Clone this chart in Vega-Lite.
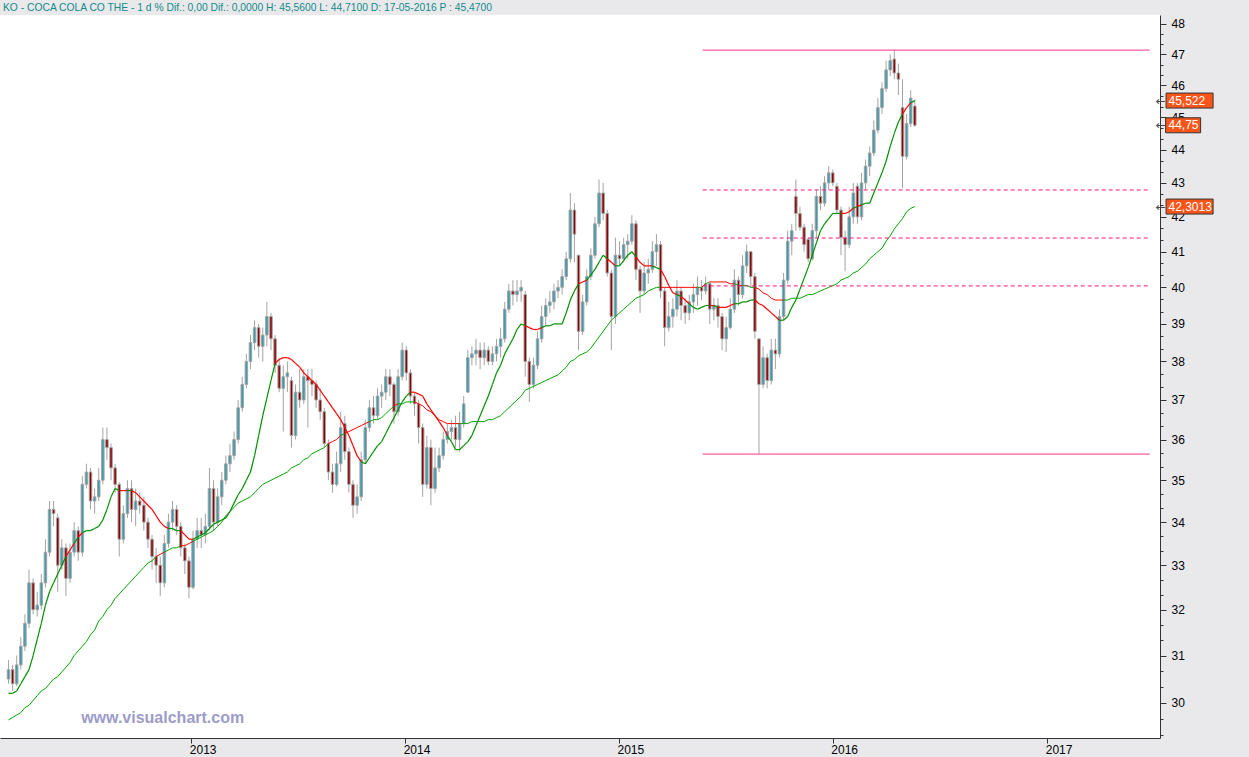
{
"$schema":"https://vega.github.io/schema/vega-lite/v6.json",
"width":1160,"height":723,
"autosize":{"type":"none"},
"padding":{"left":0,"top":15,"right":89,"bottom":19},
"background":"#e9e9ec",
"config":{"view":{"stroke":null,"fill":"#ffffff"},"font":"Liberation Sans"},
"title":{"text":"KO - COCA COLA CO THE -  1 d % Dif.: 0,00 Dif.: 0,0000 H: 45,5600 L: 44,7100 D: 17-05-2016 P : 45,4700","anchor":"start","frame":"group","orient":"top","offset":3,"dx":3,"dy":11,"baseline":"bottom","fontSize":10.3,"font":"Liberation Sans","fontWeight":"normal","color":"#118a8a"},
"datasets":{
"px":[
{"d":"2012-02-24","o":30.5,"h":30.9,"l":30.4,"c":30.7,"m":30.2,"a":29.65},
{"d":"2012-03-02","o":30.7,"h":30.8,"l":30.25,"c":30.4,"m":30.2,"a":29.7},
{"d":"2012-03-09","o":30.4,"h":31.0,"l":30.35,"c":30.8,"m":30.25,"a":29.75},
{"d":"2012-03-16","o":30.8,"h":31.4,"l":30.7,"c":31.2,"m":30.4,"a":29.8},
{"d":"2012-03-23","o":31.2,"h":31.9,"l":31.1,"c":31.7,"m":30.55,"a":29.9},
{"d":"2012-03-30","o":31.7,"h":32.9,"l":31.6,"c":32.6,"m":30.7,"a":29.95},
{"d":"2012-04-06","o":32.6,"h":32.7,"l":31.9,"c":32.0,"m":31.0,"a":30.05},
{"d":"2012-04-13","o":32.0,"h":32.4,"l":31.85,"c":32.1,"m":31.35,"a":30.15},
{"d":"2012-04-20","o":32.1,"h":32.8,"l":32.0,"c":32.6,"m":31.7,"a":30.25},
{"d":"2012-04-27","o":32.6,"h":33.6,"l":32.5,"c":33.3,"m":32.1,"a":30.3},
{"d":"2012-05-04","o":33.3,"h":34.5,"l":33.2,"c":34.3,"m":32.4,"a":30.4},
{"d":"2012-05-11","o":34.3,"h":34.5,"l":33.9,"c":34.2,"m":32.6,"a":30.5},
{"d":"2012-05-18","o":34.1,"h":34.2,"l":32.4,"c":33.0,"m":32.8,"a":30.55},
{"d":"2012-05-25","o":33.0,"h":33.6,"l":32.9,"c":33.4,"m":33.0,"a":30.65},
{"d":"2012-06-01","o":33.4,"h":33.5,"l":32.3,"c":32.7,"m":33.2,"a":30.75},
{"d":"2012-06-08","o":32.7,"h":33.5,"l":32.6,"c":33.3,"m":33.35,"a":30.85},
{"d":"2012-06-15","o":33.3,"h":34.0,"l":33.2,"c":33.8,"m":33.5,"a":31.0},
{"d":"2012-06-22","o":33.8,"h":33.9,"l":33.1,"c":33.3,"m":33.65,"a":31.1},
{"d":"2012-06-29","o":33.3,"h":35.1,"l":33.2,"c":34.9,"m":33.75,"a":31.2},
{"d":"2012-07-06","o":34.9,"h":35.4,"l":34.8,"c":35.2,"m":33.8,"a":31.3},
{"d":"2012-07-13","o":35.2,"h":35.3,"l":34.3,"c":34.5,"m":33.8,"a":31.45},
{"d":"2012-07-20","o":34.5,"h":34.8,"l":34.2,"c":34.6,"m":33.85,"a":31.55},
{"d":"2012-07-27","o":34.6,"h":35.3,"l":34.5,"c":35.0,"m":33.9,"a":31.75},
{"d":"2012-08-03","o":35.0,"h":36.3,"l":34.9,"c":36.0,"m":34.05,"a":31.85},
{"d":"2012-08-10","o":36.0,"h":36.3,"l":35.5,"c":35.8,"m":34.3,"a":32.0},
{"d":"2012-08-17","o":35.8,"h":35.9,"l":35.0,"c":35.3,"m":34.6,"a":32.1},
{"d":"2012-08-24","o":35.3,"h":35.4,"l":34.7,"c":34.9,"m":34.8,"a":32.25},
{"d":"2012-08-31","o":34.9,"h":34.95,"l":33.2,"c":33.6,"m":34.75,"a":32.35},
{"d":"2012-09-07","o":33.6,"h":34.4,"l":33.5,"c":34.2,"m":34.75,"a":32.45},
{"d":"2012-09-14","o":34.2,"h":35.0,"l":34.1,"c":34.8,"m":34.75,"a":32.55},
{"d":"2012-09-21","o":34.8,"h":35.0,"l":34.0,"c":34.3,"m":34.75,"a":32.65},
{"d":"2012-09-28","o":34.3,"h":34.8,"l":33.9,"c":34.5,"m":34.7,"a":32.75},
{"d":"2012-10-05","o":34.5,"h":34.7,"l":34.2,"c":34.4,"m":34.6,"a":32.85},
{"d":"2012-10-12","o":34.4,"h":34.6,"l":33.8,"c":34.0,"m":34.5,"a":32.95},
{"d":"2012-10-19","o":34.0,"h":34.1,"l":33.4,"c":33.6,"m":34.4,"a":33.05},
{"d":"2012-10-26","o":33.6,"h":33.7,"l":32.9,"c":33.2,"m":34.3,"a":33.1},
{"d":"2012-11-02","o":33.2,"h":33.4,"l":32.6,"c":33.0,"m":34.15,"a":33.2},
{"d":"2012-11-09","o":33.0,"h":33.2,"l":32.3,"c":32.6,"m":34.0,"a":33.25},
{"d":"2012-11-16","o":32.6,"h":33.7,"l":32.5,"c":33.5,"m":33.9,"a":33.3},
{"d":"2012-11-23","o":33.5,"h":34.2,"l":33.4,"c":34.0,"m":33.85,"a":33.35},
{"d":"2012-11-30","o":34.0,"h":34.5,"l":33.8,"c":34.3,"m":33.85,"a":33.4},
{"d":"2012-12-07","o":34.3,"h":34.4,"l":33.7,"c":33.9,"m":33.8,"a":33.4},
{"d":"2012-12-14","o":33.9,"h":34.0,"l":33.2,"c":33.4,"m":33.8,"a":33.45},
{"d":"2012-12-21","o":33.4,"h":33.5,"l":32.8,"c":33.1,"m":33.7,"a":33.45},
{"d":"2012-12-28","o":33.1,"h":33.2,"l":32.25,"c":32.5,"m":33.6,"a":33.5},
{"d":"2013-01-04","o":32.5,"h":33.8,"l":32.45,"c":33.6,"m":33.6,"a":33.55},
{"d":"2013-01-11","o":33.6,"h":34.1,"l":33.4,"c":33.8,"m":33.65,"a":33.6},
{"d":"2013-01-18","o":33.8,"h":34.1,"l":33.4,"c":33.7,"m":33.7,"a":33.65},
{"d":"2013-01-25","o":33.7,"h":34.2,"l":33.5,"c":33.9,"m":33.75,"a":33.7},
{"d":"2013-02-01","o":33.9,"h":35.3,"l":33.8,"c":34.8,"m":33.85,"a":33.75},
{"d":"2013-02-08","o":34.8,"h":35.0,"l":33.8,"c":34.0,"m":33.95,"a":33.8},
{"d":"2013-02-15","o":34.0,"h":34.8,"l":33.9,"c":34.6,"m":34.0,"a":33.9},
{"d":"2013-02-22","o":34.6,"h":35.2,"l":34.4,"c":35.0,"m":34.05,"a":34.0},
{"d":"2013-03-01","o":35.0,"h":35.6,"l":34.9,"c":35.4,"m":34.1,"a":34.15},
{"d":"2013-03-08","o":35.4,"h":35.9,"l":35.2,"c":35.6,"m":34.25,"a":34.25},
{"d":"2013-03-15","o":35.6,"h":36.2,"l":35.5,"c":36.0,"m":34.45,"a":34.35},
{"d":"2013-03-22","o":36.0,"h":37.0,"l":35.9,"c":36.8,"m":34.65,"a":34.45},
{"d":"2013-03-29","o":36.8,"h":37.6,"l":36.7,"c":37.4,"m":34.8,"a":34.5},
{"d":"2013-04-05","o":37.4,"h":38.2,"l":37.3,"c":38.0,"m":35.0,"a":34.55},
{"d":"2013-04-12","o":38.0,"h":38.7,"l":37.8,"c":38.5,"m":35.2,"a":34.6},
{"d":"2013-04-19","o":38.5,"h":39.1,"l":38.3,"c":38.9,"m":35.6,"a":34.7},
{"d":"2013-04-26","o":38.9,"h":39.0,"l":38.1,"c":38.4,"m":36.1,"a":34.8},
{"d":"2013-05-03","o":38.4,"h":38.9,"l":38.0,"c":38.7,"m":36.6,"a":34.9},
{"d":"2013-05-10","o":38.7,"h":39.6,"l":38.4,"c":39.2,"m":37.05,"a":34.95},
{"d":"2013-05-17","o":39.2,"h":39.3,"l":38.3,"c":38.6,"m":37.5,"a":35.0},
{"d":"2013-05-24","o":38.6,"h":38.7,"l":37.7,"c":37.9,"m":37.95,"a":35.05},
{"d":"2013-05-31","o":37.9,"h":38.1,"l":37.2,"c":37.3,"m":38.05,"a":35.1},
{"d":"2013-06-07","o":37.3,"h":37.9,"l":36.2,"c":37.6,"m":38.1,"a":35.15},
{"d":"2013-06-14","o":37.6,"h":38.0,"l":37.2,"c":37.7,"m":38.1,"a":35.2},
{"d":"2013-06-21","o":37.5,"h":37.6,"l":35.8,"c":36.1,"m":38.05,"a":35.3},
{"d":"2013-06-28","o":36.1,"h":37.4,"l":36.0,"c":37.2,"m":37.95,"a":35.35},
{"d":"2013-07-05","o":37.2,"h":37.8,"l":36.8,"c":37.0,"m":37.85,"a":35.4},
{"d":"2013-07-12","o":37.0,"h":37.8,"l":36.9,"c":37.6,"m":37.7,"a":35.5},
{"d":"2013-07-19","o":37.6,"h":37.8,"l":36.3,"c":37.5,"m":37.6,"a":35.55},
{"d":"2013-07-26","o":37.5,"h":37.8,"l":37.1,"c":37.4,"m":37.5,"a":35.65},
{"d":"2013-08-02","o":37.4,"h":37.5,"l":36.8,"c":37.0,"m":37.4,"a":35.7},
{"d":"2013-08-09","o":37.0,"h":37.3,"l":36.5,"c":36.7,"m":37.25,"a":35.75},
{"d":"2013-08-16","o":36.7,"h":36.8,"l":35.8,"c":35.9,"m":37.1,"a":35.8},
{"d":"2013-08-23","o":35.9,"h":36.0,"l":35.0,"c":35.2,"m":36.95,"a":35.9},
{"d":"2013-08-30","o":35.2,"h":35.4,"l":34.7,"c":34.9,"m":36.8,"a":35.95},
{"d":"2013-09-06","o":34.9,"h":35.7,"l":34.85,"c":35.4,"m":36.65,"a":36.0},
{"d":"2013-09-13","o":35.4,"h":36.7,"l":35.2,"c":36.3,"m":36.5,"a":36.1},
{"d":"2013-09-20","o":36.4,"h":36.6,"l":35.5,"c":35.7,"m":36.3,"a":36.15},
{"d":"2013-09-27","o":35.7,"h":35.8,"l":34.7,"c":34.9,"m":36.1,"a":36.2},
{"d":"2013-10-04","o":34.9,"h":35.0,"l":34.1,"c":34.4,"m":35.85,"a":36.25},
{"d":"2013-10-11","o":34.4,"h":34.9,"l":34.2,"c":34.6,"m":35.6,"a":36.3},
{"d":"2013-10-18","o":34.6,"h":35.7,"l":34.5,"c":35.5,"m":35.45,"a":36.35},
{"d":"2013-10-25","o":35.5,"h":36.5,"l":35.4,"c":36.3,"m":35.4,"a":36.4},
{"d":"2013-11-01","o":36.3,"h":37.0,"l":36.2,"c":36.8,"m":35.55,"a":36.45},
{"d":"2013-11-08","o":36.8,"h":37.1,"l":36.4,"c":36.6,"m":35.7,"a":36.5},
{"d":"2013-11-15","o":36.6,"h":37.3,"l":36.5,"c":37.1,"m":35.85,"a":36.5},
{"d":"2013-11-22","o":37.1,"h":37.4,"l":36.8,"c":37.2,"m":35.95,"a":36.55},
{"d":"2013-11-29","o":37.2,"h":37.8,"l":37.0,"c":37.6,"m":36.15,"a":36.65},
{"d":"2013-12-06","o":37.6,"h":37.8,"l":37.1,"c":37.4,"m":36.35,"a":36.75},
{"d":"2013-12-13","o":37.4,"h":37.45,"l":36.4,"c":36.7,"m":36.55,"a":36.85},
{"d":"2013-12-20","o":36.7,"h":37.8,"l":36.6,"c":37.6,"m":36.75,"a":36.9},
{"d":"2013-12-27","o":37.6,"h":38.5,"l":37.5,"c":38.3,"m":36.95,"a":36.9},
{"d":"2014-01-03","o":38.3,"h":38.4,"l":37.5,"c":37.7,"m":37.1,"a":36.95},
{"d":"2014-01-10","o":37.7,"h":37.8,"l":36.9,"c":37.1,"m":37.2,"a":36.95},
{"d":"2014-01-17","o":37.1,"h":37.2,"l":36.6,"c":36.9,"m":37.2,"a":36.95},
{"d":"2014-01-24","o":36.9,"h":37.0,"l":35.9,"c":36.3,"m":37.15,"a":36.9},
{"d":"2014-01-31","o":36.3,"h":36.4,"l":34.6,"c":34.9,"m":37.1,"a":36.85},
{"d":"2014-02-07","o":34.9,"h":36.1,"l":34.8,"c":35.8,"m":36.9,"a":36.75},
{"d":"2014-02-14","o":35.8,"h":36.0,"l":34.4,"c":34.8,"m":36.75,"a":36.7},
{"d":"2014-02-21","o":34.8,"h":35.8,"l":34.7,"c":35.3,"m":36.6,"a":36.6},
{"d":"2014-02-28","o":35.3,"h":35.8,"l":35.2,"c":35.6,"m":36.45,"a":36.5},
{"d":"2014-03-07","o":35.6,"h":36.2,"l":35.5,"c":36.0,"m":36.3,"a":36.45},
{"d":"2014-03-14","o":36.0,"h":36.4,"l":35.9,"c":36.2,"m":36.1,"a":36.4},
{"d":"2014-03-21","o":36.2,"h":36.5,"l":36.0,"c":36.3,"m":35.95,"a":36.4},
{"d":"2014-03-28","o":36.3,"h":36.6,"l":35.8,"c":36.0,"m":35.75,"a":36.4},
{"d":"2014-04-04","o":36.0,"h":36.7,"l":35.7,"c":36.4,"m":35.75,"a":36.4},
{"d":"2014-04-11","o":36.4,"h":37.1,"l":36.3,"c":36.9,"m":35.85,"a":36.4},
{"d":"2014-04-18","o":37.2,"h":38.3,"l":37.2,"c":38.1,"m":35.95,"a":36.4},
{"d":"2014-04-25","o":38.1,"h":38.4,"l":37.9,"c":38.2,"m":36.1,"a":36.45},
{"d":"2014-05-02","o":38.2,"h":38.6,"l":37.9,"c":38.3,"m":36.35,"a":36.45},
{"d":"2014-05-09","o":38.3,"h":38.5,"l":37.8,"c":38.1,"m":36.6,"a":36.45},
{"d":"2014-05-16","o":38.1,"h":38.5,"l":37.9,"c":38.3,"m":36.85,"a":36.45},
{"d":"2014-05-23","o":38.3,"h":38.4,"l":37.9,"c":38.0,"m":37.1,"a":36.5},
{"d":"2014-05-30","o":38.0,"h":38.4,"l":37.9,"c":38.2,"m":37.4,"a":36.5},
{"d":"2014-06-06","o":38.2,"h":38.6,"l":38.0,"c":38.4,"m":37.7,"a":36.55},
{"d":"2014-06-13","o":38.4,"h":38.9,"l":38.1,"c":38.6,"m":37.9,"a":36.6},
{"d":"2014-06-20","o":38.6,"h":39.6,"l":38.5,"c":39.4,"m":38.2,"a":36.7},
{"d":"2014-06-27","o":39.4,"h":40.1,"l":39.3,"c":39.9,"m":38.4,"a":36.8},
{"d":"2014-07-04","o":39.9,"h":40.2,"l":39.5,"c":39.8,"m":38.6,"a":36.9},
{"d":"2014-07-11","o":39.8,"h":40.2,"l":39.6,"c":39.9,"m":38.85,"a":37.0},
{"d":"2014-07-18","o":39.9,"h":40.2,"l":39.6,"c":40.0,"m":39.0,"a":37.1},
{"d":"2014-07-25","o":39.8,"h":39.9,"l":37.6,"c":38.0,"m":38.95,"a":37.25},
{"d":"2014-08-01","o":38.0,"h":38.1,"l":36.95,"c":37.4,"m":38.9,"a":37.3},
{"d":"2014-08-08","o":37.4,"h":38.1,"l":37.3,"c":37.9,"m":38.85,"a":37.35},
{"d":"2014-08-15","o":37.9,"h":38.8,"l":37.8,"c":38.6,"m":38.85,"a":37.4},
{"d":"2014-08-22","o":38.6,"h":39.5,"l":38.5,"c":39.2,"m":38.9,"a":37.45},
{"d":"2014-08-29","o":39.2,"h":39.7,"l":38.95,"c":39.5,"m":38.95,"a":37.5},
{"d":"2014-09-05","o":39.5,"h":39.9,"l":39.3,"c":39.6,"m":38.95,"a":37.55},
{"d":"2014-09-12","o":39.6,"h":40.1,"l":39.4,"c":39.9,"m":39.0,"a":37.6},
{"d":"2014-09-19","o":39.9,"h":40.2,"l":39.7,"c":40.0,"m":39.0,"a":37.65},
{"d":"2014-09-26","o":40.0,"h":40.5,"l":39.8,"c":40.3,"m":39.0,"a":37.75},
{"d":"2014-10-03","o":40.3,"h":41.0,"l":40.2,"c":40.8,"m":39.3,"a":37.85},
{"d":"2014-10-10","o":40.8,"h":42.7,"l":40.7,"c":42.2,"m":39.65,"a":38.0},
{"d":"2014-10-17","o":42.2,"h":42.4,"l":40.7,"c":41.5,"m":39.9,"a":38.05},
{"d":"2014-10-24","o":40.9,"h":40.9,"l":38.3,"c":38.8,"m":40.1,"a":38.15},
{"d":"2014-10-31","o":38.8,"h":39.8,"l":38.7,"c":39.6,"m":40.15,"a":38.2},
{"d":"2014-11-07","o":39.6,"h":40.5,"l":39.5,"c":40.3,"m":40.2,"a":38.25},
{"d":"2014-11-14","o":40.3,"h":41.1,"l":40.2,"c":40.9,"m":40.35,"a":38.35},
{"d":"2014-11-21","o":40.9,"h":42.0,"l":40.8,"c":41.8,"m":40.5,"a":38.5},
{"d":"2014-11-28","o":41.8,"h":43.1,"l":41.7,"c":42.7,"m":40.7,"a":38.65},
{"d":"2014-12-05","o":42.7,"h":43.0,"l":41.9,"c":42.1,"m":40.9,"a":38.8},
{"d":"2014-12-12","o":42.1,"h":42.2,"l":40.3,"c":40.4,"m":40.8,"a":38.95},
{"d":"2014-12-19","o":40.4,"h":40.5,"l":38.3,"c":39.2,"m":40.7,"a":39.1},
{"d":"2014-12-26","o":39.2,"h":41.4,"l":39.0,"c":40.9,"m":40.6,"a":39.2},
{"d":"2015-01-02","o":40.9,"h":41.3,"l":40.6,"c":40.8,"m":40.6,"a":39.3},
{"d":"2015-01-09","o":40.8,"h":41.4,"l":40.7,"c":41.2,"m":40.75,"a":39.4},
{"d":"2015-01-16","o":41.2,"h":41.5,"l":40.8,"c":41.3,"m":40.9,"a":39.5},
{"d":"2015-01-23","o":41.3,"h":42.05,"l":41.2,"c":41.8,"m":41.0,"a":39.6},
{"d":"2015-01-30","o":41.8,"h":41.9,"l":40.2,"c":40.5,"m":40.85,"a":39.7},
{"d":"2015-02-06","o":40.5,"h":40.6,"l":39.3,"c":39.9,"m":40.7,"a":39.75},
{"d":"2015-02-13","o":39.9,"h":40.7,"l":39.8,"c":40.4,"m":40.6,"a":39.8},
{"d":"2015-02-20","o":40.4,"h":40.8,"l":40.1,"c":40.5,"m":40.6,"a":39.9},
{"d":"2015-02-27","o":40.5,"h":41.3,"l":40.4,"c":41.0,"m":40.6,"a":39.95},
{"d":"2015-03-06","o":41.0,"h":41.5,"l":40.6,"c":41.2,"m":40.55,"a":40.0},
{"d":"2015-03-13","o":41.2,"h":41.3,"l":39.7,"c":39.9,"m":40.5,"a":40.0},
{"d":"2015-03-20","o":39.9,"h":40.0,"l":38.4,"c":38.9,"m":40.3,"a":40.0},
{"d":"2015-03-27","o":38.9,"h":39.6,"l":38.8,"c":39.2,"m":40.05,"a":40.0},
{"d":"2015-04-03","o":39.2,"h":39.7,"l":38.9,"c":39.4,"m":39.85,"a":40.0},
{"d":"2015-04-10","o":39.4,"h":40.2,"l":39.2,"c":39.9,"m":39.8,"a":40.0},
{"d":"2015-04-17","o":39.9,"h":40.0,"l":39.1,"c":39.5,"m":39.75,"a":40.0},
{"d":"2015-04-24","o":39.5,"h":39.7,"l":39.0,"c":39.3,"m":39.65,"a":40.0},
{"d":"2015-05-01","o":39.3,"h":39.8,"l":39.1,"c":39.6,"m":39.55,"a":40.0},
{"d":"2015-05-08","o":39.6,"h":40.1,"l":39.3,"c":39.8,"m":39.45,"a":40.0},
{"d":"2015-05-15","o":39.8,"h":40.3,"l":39.5,"c":40.0,"m":39.4,"a":40.0},
{"d":"2015-05-22","o":40.0,"h":40.2,"l":39.65,"c":39.9,"m":39.45,"a":40.0},
{"d":"2015-05-29","o":39.9,"h":40.3,"l":39.8,"c":40.1,"m":39.5,"a":40.1},
{"d":"2015-06-05","o":40.1,"h":40.15,"l":39.0,"c":39.4,"m":39.5,"a":40.15},
{"d":"2015-06-12","o":39.4,"h":39.7,"l":39.1,"c":39.5,"m":39.5,"a":40.15},
{"d":"2015-06-19","o":39.5,"h":39.7,"l":38.9,"c":39.2,"m":39.45,"a":40.15},
{"d":"2015-06-26","o":39.2,"h":39.3,"l":38.3,"c":38.6,"m":39.45,"a":40.15},
{"d":"2015-07-03","o":38.6,"h":39.2,"l":38.25,"c":38.9,"m":39.45,"a":40.15},
{"d":"2015-07-10","o":38.9,"h":39.7,"l":38.85,"c":39.4,"m":39.5,"a":40.1},
{"d":"2015-07-17","o":39.4,"h":40.5,"l":39.3,"c":40.2,"m":39.55,"a":40.1},
{"d":"2015-07-24","o":40.2,"h":40.3,"l":39.5,"c":39.8,"m":39.55,"a":40.05},
{"d":"2015-07-31","o":39.8,"h":40.9,"l":39.7,"c":40.6,"m":39.6,"a":40.05},
{"d":"2015-08-07","o":40.6,"h":41.2,"l":40.4,"c":41.0,"m":39.6,"a":40.05},
{"d":"2015-08-14","o":41.0,"h":41.0,"l":40.0,"c":40.3,"m":39.65,"a":40.0},
{"d":"2015-08-21","o":40.3,"h":40.4,"l":38.6,"c":38.8,"m":39.65,"a":40.0},
{"d":"2015-08-28","o":38.6,"h":38.6,"l":35.65,"c":37.4,"m":39.55,"a":39.95},
{"d":"2015-09-04","o":37.4,"h":38.4,"l":37.3,"c":38.1,"m":39.5,"a":39.85},
{"d":"2015-09-11","o":38.1,"h":38.2,"l":37.3,"c":37.5,"m":39.4,"a":39.8},
{"d":"2015-09-18","o":37.5,"h":38.6,"l":37.4,"c":38.3,"m":39.3,"a":39.7},
{"d":"2015-09-25","o":38.3,"h":38.6,"l":37.8,"c":38.2,"m":39.2,"a":39.65},
{"d":"2015-10-02","o":38.2,"h":39.4,"l":38.1,"c":39.2,"m":39.1,"a":39.65},
{"d":"2015-10-09","o":39.2,"h":40.4,"l":39.1,"c":40.2,"m":39.1,"a":39.65},
{"d":"2015-10-16","o":40.2,"h":41.6,"l":40.1,"c":41.3,"m":39.2,"a":39.65},
{"d":"2015-10-23","o":41.3,"h":41.8,"l":40.9,"c":41.6,"m":39.45,"a":39.7},
{"d":"2015-10-30","o":42.6,"h":43.1,"l":41.6,"c":42.1,"m":39.65,"a":39.7},
{"d":"2015-11-06","o":42.1,"h":42.3,"l":41.6,"c":41.7,"m":39.95,"a":39.7},
{"d":"2015-11-13","o":41.7,"h":41.8,"l":41.0,"c":41.2,"m":40.25,"a":39.75},
{"d":"2015-11-20","o":41.35,"h":41.4,"l":40.7,"c":40.8,"m":40.55,"a":39.8},
{"d":"2015-11-27","o":40.8,"h":41.8,"l":40.75,"c":41.6,"m":40.9,"a":39.8},
{"d":"2015-12-04","o":41.6,"h":42.8,"l":41.4,"c":42.6,"m":41.25,"a":39.85},
{"d":"2015-12-11","o":42.6,"h":42.9,"l":42.2,"c":42.4,"m":41.6,"a":39.9},
{"d":"2015-12-18","o":42.4,"h":43.2,"l":42.3,"c":43.0,"m":41.8,"a":39.95},
{"d":"2015-12-25","o":43.0,"h":43.5,"l":42.8,"c":43.3,"m":41.95,"a":40.0},
{"d":"2016-01-01","o":43.3,"h":43.4,"l":42.9,"c":43.0,"m":42.1,"a":40.05},
{"d":"2016-01-08","o":42.9,"h":43.0,"l":42.1,"c":42.2,"m":42.1,"a":40.1},
{"d":"2016-01-15","o":42.2,"h":42.3,"l":40.9,"c":41.4,"m":42.1,"a":40.2},
{"d":"2016-01-22","o":41.4,"h":41.6,"l":40.45,"c":41.2,"m":42.1,"a":40.25},
{"d":"2016-01-29","o":41.2,"h":42.3,"l":41.1,"c":42.0,"m":42.15,"a":40.3},
{"d":"2016-02-05","o":42.0,"h":43.0,"l":41.8,"c":42.7,"m":42.25,"a":40.4},
{"d":"2016-02-12","o":42.9,"h":43.0,"l":41.8,"c":42.0,"m":42.3,"a":40.45},
{"d":"2016-02-19","o":42.0,"h":43.3,"l":41.9,"c":43.0,"m":42.35,"a":40.55},
{"d":"2016-02-26","o":43.0,"h":43.7,"l":42.8,"c":43.5,"m":42.4,"a":40.65},
{"d":"2016-03-04","o":43.5,"h":44.1,"l":43.2,"c":43.9,"m":42.4,"a":40.8},
{"d":"2016-03-11","o":43.9,"h":44.9,"l":43.8,"c":44.6,"m":42.7,"a":40.9},
{"d":"2016-03-18","o":44.6,"h":45.6,"l":44.5,"c":45.3,"m":43.0,"a":41.0},
{"d":"2016-03-25","o":45.3,"h":46.1,"l":45.1,"c":45.9,"m":43.3,"a":41.1},
{"d":"2016-04-01","o":45.9,"h":46.8,"l":45.8,"c":46.5,"m":43.65,"a":41.3},
{"d":"2016-04-08","o":46.5,"h":47.0,"l":46.3,"c":46.8,"m":44.1,"a":41.45},
{"d":"2016-04-15","o":46.85,"h":47.14,"l":46.2,"c":46.4,"m":44.5,"a":41.65},
{"d":"2016-04-22","o":46.4,"h":46.7,"l":45.7,"c":46.2,"m":44.85,"a":41.8},
{"d":"2016-04-29","o":45.3,"h":46.2,"l":42.85,"c":43.8,"m":45.1,"a":41.95},
{"d":"2016-05-06","o":43.8,"h":45.1,"l":43.7,"c":44.8,"m":45.3,"a":42.15},
{"d":"2016-05-13","o":44.8,"h":45.85,"l":44.7,"c":45.6,"m":45.45,"a":42.25},
{"d":"2016-05-20","o":45.35,"h":45.56,"l":44.7,"c":44.75,"m":45.52,"a":42.3}
],
"lv":[
{"v":47.14,"s":"solid"},{"v":35.64,"s":"solid"},{"v":42.79,"s":"dash"},{"v":41.39,"s":"dash"},{"v":40.04,"s":"dash"}
],
"tags":[
{"v":45.522,"t":"45,522","w":"wide"},{"v":44.75,"t":"44,75","w":"narrow"},{"v":42.3013,"t":"42,3013","w":"wide"}
]
},
"layer":[
{"data":{"name":"px","format":{"parse":{"d":"date"}}},
 "mark":{"type":"rule","color":"#a3a3a3","strokeWidth":1},
 "encoding":{
  "x":{"field":"d","type":"temporal","scale":{"type":"utc","domain":[{"year":2012,"month":2,"date":18,"utc":true},{"year":2017,"month":7,"date":4,"utc":true}],"nice":false},
   "axis":{"title":null,"grid":false,"values":[{"year":2013,"month":1,"date":1,"utc":true},{"year":2014,"month":1,"date":1,"utc":true},{"year":2015,"month":1,"date":1,"utc":true},{"year":2016,"month":1,"date":1,"utc":true},{"year":2017,"month":1,"date":1,"utc":true}],"format":"%Y","labelAlign":"left","labelFontSize":12,"labelColor":"#000000","labelPadding":1,"labelOffset":-2,"tickSize":5,"tickColor":"#333333","domainColor":"#333333","labelFont":"Liberation Sans","labelFlush":false,"labelOverlap":false}},
  "y":{"field":"l","type":"quantitative","scale":{"type":"log","domain":[29.28,48.3],"nice":false,"zero":false},
   "axis":{"orient":"right","title":null,"grid":false,"values":[29.333,29.667,30,30.333,30.667,31,31.333,31.667,32,32.333,32.667,33,33.333,33.667,34,34.333,34.667,35,35.333,35.667,36,36.333,36.667,37,37.333,37.667,38,38.333,38.667,39,39.333,39.667,40,40.333,40.667,41,41.333,41.667,42,42.333,42.667,43,43.333,43.667,44,44.333,44.667,45,45.333,45.667,46,46.333,46.667,47,47.333,47.667,48],
    "labelExpr":"datum.value % 1 === 0 ? format(datum.value, 'd') : ''","labelOverlap":false,"labelBound":false,"labelFlush":false,"labelFontSize":12,"labelColor":"#000000","labelFont":"Liberation Sans","labelPadding":5,
    "tickSize":{"condition":{"test":"datum.value % 1 === 0","value":6},"value":3},"tickColor":"#333333","domainColor":"#333333"}},
  "y2":{"field":"h"}
 }},
{"data":{"name":"px","format":{"parse":{"d":"date"}}},
 "mark":{"type":"bar","size":2.5,"stroke":"#a3a3a3","strokeWidth":1},
 "encoding":{
  "x":{"field":"d","type":"temporal"},
  "y":{"field":"o","type":"quantitative"},
  "y2":{"field":"c"},
  "fill":{"condition":{"test":"datum.c < datum.o","value":"#8e0000"},"value":"#3a9db0"}
 }},
{"data":{"name":"px","format":{"parse":{"d":"date"}}},
 "transform":[{"window":[{"op":"lead","field":"d","as":"d2"},{"op":"lead","field":"a","as":"a2"}],"sort":[{"field":"d","order":"ascending"}]},{"filter":"datum.d2 != null"}],
 "mark":{"type":"rule","strokeWidth":1},
 "encoding":{
  "x":{"field":"d","type":"temporal"},"x2":{"field":"d2"},
  "y":{"field":"a","type":"quantitative"},"y2":{"field":"a2"},
  "color":{"condition":{"test":"datum.c >= datum.a","value":"#00a600"},"value":"#ff0000"}
 }},
{"data":{"name":"px","format":{"parse":{"d":"date"}}},
 "transform":[{"window":[{"op":"lead","field":"d","as":"d2"},{"op":"lead","field":"m","as":"m2"}],"sort":[{"field":"d","order":"ascending"}]},{"filter":"datum.d2 != null"}],
 "mark":{"type":"rule","strokeWidth":1.2},
 "encoding":{
  "x":{"field":"d","type":"temporal"},"x2":{"field":"d2"},
  "y":{"field":"m","type":"quantitative"},"y2":{"field":"m2"},
  "color":{"condition":{"test":"datum.c >= datum.m","value":"#008f00"},"value":"#ff0000"}
 }},
{"data":{"name":"lv"},
 "mark":{"type":"rule","color":"#ff1480","strokeWidth":1},
 "encoding":{
  "x":{"datum":{"year":2015,"month":5,"date":24,"utc":true},"type":"temporal"},
  "x2":{"datum":{"year":2017,"month":6,"date":25,"utc":true}},
  "y":{"field":"v","type":"quantitative"},
  "strokeDash":{"field":"s","type":"nominal","scale":{"domain":["solid","dash"],"range":[[1,0],[4,3]]},"legend":null}
 }},
{"data":{"values":[{}]},
 "mark":{"type":"text","text":"www.visualchart.com","align":"left","baseline":"middle","fontSize":16,"fontWeight":"bold","font":"Liberation Sans","color":"#9c9cc8"},
 "encoding":{
  "x":{"datum":{"year":2012,"month":6,"date":27,"utc":true},"type":"temporal"},
  "y":{"datum":29.69,"type":"quantitative"}
 }},
{"data":{"name":"tags"},
 "transform":[{"filter":"datum.w === 'wide'"}],
 "mark":{"type":"tick","orient":"horizontal","size":47,"thickness":15,"fill":"#fa5519","stroke":"#333333","strokeWidth":1,"opacity":1,"filled":true,"clip":false},
 "encoding":{
  "x":{"datum":{"year":2017,"month":9,"date":1,"utc":true},"type":"temporal"},
  "y":{"field":"v","type":"quantitative"}
 }},
{"data":{"name":"tags"},
 "transform":[{"filter":"datum.w === 'narrow'"}],
 "mark":{"type":"tick","orient":"horizontal","size":35,"thickness":15,"fill":"#fa5519","stroke":"#333333","strokeWidth":1,"opacity":1,"filled":true,"clip":false},
 "encoding":{
  "x":{"datum":{"year":2017,"month":8,"date":21,"utc":true},"type":"temporal"},
  "y":{"field":"v","type":"quantitative"}
 }},
{"data":{"name":"tags"},
 "mark":{"type":"text","align":"left","baseline":"middle","fontSize":12,"font":"Liberation Sans","color":"#ffffff","clip":false},
 "encoding":{
  "x":{"datum":{"year":2017,"month":7,"date":27,"utc":true},"type":"temporal"},
  "y":{"field":"v","type":"quantitative"},
  "text":{"field":"t"}
 }},
{"data":{"name":"tags"},
 "mark":{"type":"text","text":"←","align":"center","baseline":"middle","fontSize":12,"font":"DejaVu Sans","color":"#444444","clip":false},
 "encoding":{
  "x":{"datum":{"year":2017,"month":7,"date":14,"utc":true},"type":"temporal"},
  "y":{"field":"v","type":"quantitative"}
 }}
]
}
